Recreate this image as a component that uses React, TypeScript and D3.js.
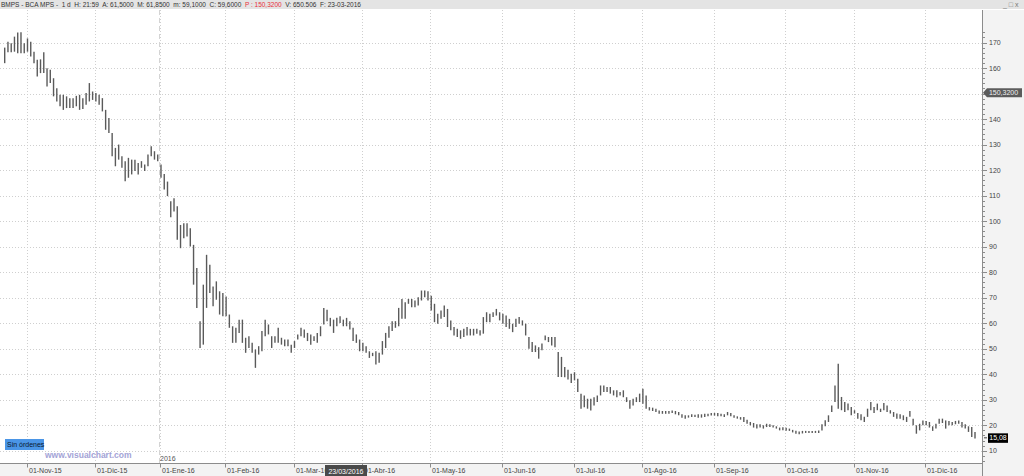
import React from "react";
import * as d3 from "d3";

// daily highs / lows, one per trading session (22-Oct-15 .. 22-Dic-16)
const highs = [
  168.0, 170.3, 169.7, 172.3, 173.9, 174.0, 169.7, 171.6, 170.3, 166.4,
  163.2, 163.4, 166.2, 159.9, 159.3, 156.0, 152.1, 149.5, 149.5, 148.9,
  148.2, 148.2, 149.1, 149.5, 148.2, 150.2, 154.1, 150.8, 150.2, 149.5,
  148.2, 143.6, 140.4, 134.5, 128.7, 130.0, 125.4, 123.5, 124.8, 124.1,
  124.1, 122.8, 123.5, 122.2, 126.1, 129.3, 127.4, 126.1, 122.2, 118.5,
  115.5, 107.8, 109.0, 105.8, 98.5, 99.2, 99.2, 97.2, 90.7, 81.6,
  60.8, 75.1, 86.8, 82.9, 74.4, 76.4, 72.5, 71.8, 70.5, 63.4,
  58.8, 58.2, 61.4, 61.4, 54.3, 54.9, 52.3, 49.7, 51.0, 56.9,
  61.4, 59.5, 54.9, 54.9, 58.2, 54.3, 53.6, 53.6, 51.6, 53.0,
  55.6, 58.2, 57.5, 56.2, 55.6, 54.9, 56.2, 58.8, 66.0, 65.3,
  62.1, 61.4, 62.1, 62.7, 61.4, 62.1, 60.8, 58.2, 55.6, 53.6,
  52.3, 51.0, 49.0, 48.4, 49.0, 48.4, 53.0, 56.2, 58.8, 60.8,
  60.8, 66.0, 69.5, 68.2, 69.5, 69.5, 68.9, 70.2, 72.8, 72.8,
  72.5, 70.8, 67.6, 63.7, 65.0, 66.9, 65.6, 61.1, 58.5, 57.8,
  57.2, 57.8, 58.5, 57.8, 57.8, 57.8, 57.2, 62.4, 64.3, 63.7,
  64.3, 65.6, 64.3, 63.7, 63.0, 61.7, 59.8, 61.7, 62.4, 61.1,
  59.8, 54.6, 52.6, 51.3, 50.6, 52.0, 55.2, 54.6, 54.6, 54.6,
  48.7, 46.8, 42.8, 41.8, 40.2, 40.8, 38.2, 32.4, 31.7, 30.4,
  30.4, 31.0, 31.7, 35.6, 35.6, 35.0, 35.0, 33.7, 33.7, 33.0,
  33.7, 31.0, 29.8, 30.4, 31.0, 32.4, 34.3, 31.7, 27.1, 26.9,
  26.5, 25.8, 25.6, 25.6, 25.6, 25.8, 25.6, 25.2, 24.3, 23.9,
  23.9, 24.3, 24.1, 24.3, 24.3, 24.5, 24.5, 24.8, 24.8, 24.8,
  24.5, 24.3, 25.2, 24.8, 23.9, 23.5, 23.2, 23.2, 22.2, 21.3,
  20.9, 20.4, 20.4, 20.0, 20.6, 20.4, 20.0, 19.6, 19.1, 19.2,
  19.0, 18.7, 18.2, 17.9, 17.6, 17.8, 17.8, 17.8, 17.8, 17.8,
  18.0, 20.4, 22.0, 23.9, 27.8, 35.6, 44.1, 31.1, 29.1, 28.5,
  27.2, 25.9, 24.8, 24.3, 23.3, 26.5, 29.1, 27.2, 28.5, 26.5,
  28.7, 27.8, 25.9, 25.2, 24.6, 24.3, 23.9, 23.3, 25.6, 22.6,
  20.0, 20.6, 21.9, 21.7, 21.3, 19.6, 20.6, 22.6, 22.6, 21.9,
  21.7, 21.3, 21.7, 21.9, 21.3, 20.4, 19.6, 19.3, 17.4,
];

const lows = [
  161.9, 166.2, 166.2, 166.4, 165.8, 165.8, 165.8, 166.4, 164.5, 161.9,
  156.7, 158.0, 158.0, 152.8, 154.1, 148.9, 146.9, 145.0, 143.6, 144.3,
  144.3, 144.3, 145.0, 143.6, 143.9, 145.6, 146.9, 147.5, 146.9, 145.6,
  143.0, 135.8, 134.5, 125.4, 121.5, 124.1, 120.9, 115.6, 117.0, 118.3,
  119.6, 118.3, 120.9, 119.6, 121.5, 125.4, 124.1, 123.5, 117.0, 112.4,
  109.8, 101.5, 103.8, 92.7, 89.4, 93.3, 94.0, 90.1, 75.1, 66.0,
  50.3, 51.6, 66.0, 71.8, 66.6, 69.2, 63.4, 62.7, 62.7, 58.2,
  52.3, 52.3, 56.2, 52.3, 48.4, 50.3, 48.4, 42.5, 47.7, 49.0,
  54.9, 55.6, 50.3, 52.3, 52.3, 51.6, 51.0, 51.0, 48.4, 50.3,
  53.6, 54.9, 54.3, 53.0, 51.6, 53.0, 52.3, 54.9, 59.5, 60.8,
  58.8, 56.2, 58.8, 60.1, 58.8, 58.8, 57.5, 53.0, 52.3, 49.0,
  49.0, 48.4, 46.4, 47.1, 43.8, 44.5, 47.7, 50.3, 54.3, 56.9,
  58.2, 58.8, 61.7, 61.7, 67.6, 66.3, 66.3, 66.9, 68.9, 70.2,
  68.9, 65.0, 60.4, 59.8, 61.7, 62.4, 58.5, 57.2, 55.2, 54.6,
  53.9, 54.6, 55.2, 55.2, 55.2, 55.9, 55.2, 55.9, 60.4, 60.4,
  62.4, 63.0, 61.1, 59.8, 58.5, 57.8, 56.5, 58.5, 59.8, 59.1,
  55.2, 50.0, 48.7, 48.7, 46.1, 49.4, 53.3, 52.6, 51.3, 50.6,
  38.9, 38.9, 38.8, 37.9, 36.6, 37.6, 33.0, 26.5, 27.1, 26.5,
  25.8, 27.8, 29.1, 31.7, 33.0, 33.0, 32.4, 31.7, 31.0, 31.7,
  31.0, 29.1, 26.5, 27.8, 29.1, 29.1, 28.4, 26.5, 25.8, 25.6,
  25.2, 24.5, 24.5, 24.5, 24.5, 24.8, 24.3, 23.9, 23.0, 22.6,
  23.0, 23.2, 23.2, 23.0, 23.0, 23.2, 23.5, 23.8, 23.8, 23.5,
  23.5, 23.2, 23.9, 23.5, 23.0, 22.6, 22.2, 21.3, 20.6, 20.0,
  19.1, 18.7, 19.1, 18.7, 19.3, 19.3, 19.1, 18.7, 18.0, 18.1,
  17.9, 17.8, 17.2, 16.7, 16.5, 16.8, 17.0, 17.0, 17.0, 17.0,
  17.0, 18.0, 19.6, 21.3, 25.2, 29.1, 26.5, 25.9, 25.2, 25.9,
  23.9, 24.6, 22.6, 22.0, 21.3, 23.3, 25.9, 24.8, 25.9, 25.2,
  25.9, 25.2, 24.6, 23.3, 22.6, 22.6, 22.0, 21.3, 23.3, 20.0,
  16.7, 18.0, 20.0, 20.0, 19.1, 17.8, 18.7, 20.6, 20.9, 18.7,
  20.0, 20.0, 20.4, 20.6, 19.1, 18.7, 17.4, 15.4, 14.8,
];

const firstSession = new Date(2015, 9, 22);
const lastSession = new Date(2016, 11, 22);
const holidays = ["2015-12-24", "2015-12-25", "2015-12-31", "2016-01-01", "2016-03-25", "2016-03-28", "2016-08-15"];
const monthNames = ["Ene", "Feb", "Mar", "Abr", "May", "Jun", "Jul", "Ago", "Sep", "Oct", "Nov", "Dic"];
const priceLabels = [10, 20, 30, 40, 50, 60, 70, 80, 90, 100, 110, 120, 130, 140, 150, 160, 170];
const minorTicks = d3.range(6, 176, 2);

const lastPrice = "15,08";
const lastValue = 15.08;
const cursorPrice = "150,3200";
const cursorValue = 150.32;
const cursorDate = "23/03/2016";

const W = 1024;
const H = 476;
const axisX = 982;
const axisY = 463.5;
const plotTop = 10;
const font = "'Liberation Sans', Arial, sans-serif";

const dayKey = d3.timeFormat("%Y-%m-%d");

export default function App() {
  const sessions = d3.timeDay
    .range(firstSession, d3.timeDay.offset(lastSession, 1))
    .filter((d) => d.getDay() !== 0 && d.getDay() !== 6 && !holidays.includes(dayKey(d)));
  const keys = sessions.map(dayKey);

  const x = d3.scalePoint<string>().domain(keys).range([4.7, 975]);
  const y = d3.scaleLinear().domain([10, 170]).range([450.8, 42.5]);

  // first session of each month
  const monthStarts = sessions.filter((d, i) => i > 0 && d.getMonth() !== sessions[i - 1].getMonth());
  const yearStart = monthStarts.find((d) => d.getMonth() === 0)!;

  const bars = keys.map((k, i) => ({ k, hi: highs[i], lo: lows[i] })).filter((b) => b.hi !== undefined);

  const cy = y(cursorValue);
  const ly = y(lastValue);
  // axis labels hidden under the cursor price marker
  const shownLabels = priceLabels.filter((v) => Math.abs(y(v) - cy) > 7);

  return (
    <div style={{ position: "fixed", left: 0, top: 0 }}>
      <svg width={W} height={H} style={{ display: "block", fontFamily: font }}>
        <rect x={0} y={0} width={W} height={H} fill="#ffffff" />
        <rect x={axisX} y={plotTop} width={W - axisX} height={H - plotTop} fill="#f3f3f3" />
        <rect x={0} y={axisY} width={W} height={H - axisY} fill="#f3f3f3" />

        {/* grid */}
        {priceLabels.map((v) => (
          <line key={"h" + v} x1={0} x2={axisX} y1={Math.round(y(v)) + 0.5} y2={Math.round(y(v)) + 0.5}
            stroke="#cfcfcf" strokeDasharray="1,2" />
        ))}
        {monthStarts.map((d) => (
          <line key={"v" + dayKey(d)} x1={Math.round(x(dayKey(d))! - 0.8) + 0.5} x2={Math.round(x(dayKey(d))! - 0.8) + 0.5}
            y1={plotTop} y2={axisY} stroke="#cfcfcf" strokeDasharray="1,2" />
        ))}
        <line x1={Math.round(x(dayKey(yearStart))! - 1.5) + 0.5} x2={Math.round(x(dayKey(yearStart))! - 1.5) + 0.5}
          y1={plotTop} y2={axisY} stroke="#d4d4d4" strokeDasharray="5,3" />
        <text x={x(dayKey(yearStart))! - 1} y={461} fontSize={7} fill="#555">2016</text>

        {/* bars */}
        <g stroke="#5a5a5a" strokeWidth={1.4}>
          {bars.map((b) => (
            <line key={b.k} x1={x(b.k)} x2={x(b.k)} y1={y(b.hi)} y2={y(b.lo)} />
          ))}
        </g>

        {/* right axis */}
        <line x1={axisX + 0.5} x2={axisX + 0.5} y1={plotTop} y2={H} stroke="#8c8c8c" />
        {minorTicks.map((v) => (
          <line key={"t" + v} x1={axisX} x2={axisX + (v % 10 === 0 ? 5 : 3)} y1={Math.round(y(v)) + 0.5}
            y2={Math.round(y(v)) + 0.5} stroke="#8c8c8c" />
        ))}
        {shownLabels.map((v) => (
          <text key={"l" + v} x={989} y={y(v) + 2.5} fontSize={7} fill="#444">{v}</text>
        ))}

        {/* bottom axis */}
        <line x1={0} x2={axisX} y1={axisY} y2={axisY} stroke="#8c8c8c" />
        {monthStarts.map((d) => {
          const px = Math.round(x(dayKey(d))! - 0.8) + 0.5;
          const label = "01-" + monthNames[d.getMonth()] + "-" + d3.timeFormat("%y")(d);
          return (
            <g key={"m" + dayKey(d)}>
              <line x1={px} x2={px} y1={axisY} y2={axisY + 4} stroke="#8c8c8c" />
              <text x={px + 1.5} y={473} fontSize={7} fill="#444">{label}</text>
            </g>
          );
        })}
        <rect x={325} y={465} width={42} height={11} fill="#4a4a4a" />
        <text x={346} y={473.5} fontSize={7} fill="#ffffff" textAnchor="middle">{cursorDate}</text>

        {/* price markers */}
        <path d={`M${axisX + 1},${cy} L${axisX + 5},${cy - 4.5} H1022 V${cy + 4.5} H${axisX + 5} Z`} fill="#5c5c5c" />
        <text x={1003.5} y={cy + 2.5} fontSize={7} fill="#f0f0f0" textAnchor="middle">{cursorPrice}</text>
        <line x1={axisX + 2} x2={axisX + 5} y1={ly} y2={ly} stroke="#444" />
        <rect x={988} y={ly - 4.5} width={20} height={9.5} fill="#000000" />
        <text x={998} y={ly + 2.5} fontSize={7} fill="#ffffff" textAnchor="middle">{lastPrice}</text>

        {/* overlays */}
        <rect x={5} y={439} width={39} height={11} fill="#4a95e6" />
        <text x={7} y={447} fontSize={7} fill="#0a1a30">Sin órdenes</text>
        <text x={45} y={457.5} fontSize={8.5} fontWeight="bold" fill="#a3a3d6">www.visualchart.com</text>

        {/* title bar */}
        <rect x={0} y={0} width={W} height={9} fill="#e4e4e4" />
        <text x={1} y={7} fontSize={6.5} fill="#333" style={{ whiteSpace: "pre" }}>
          {"BMPS - BCA MPS -  1 d  H: 21:59  A: 61,5000  M: 61,8500  m: 59,1000  C: 59,6000  "}
          <tspan fill="#e8303a">P : 150,3200</tspan>
          {"  V: 650.506  F: 23-03-2016"}
        </text>
        <text x={1003} y={7} fontSize={7} fill="#777">_ □ x</text>
      </svg>
    </div>
  );
}
